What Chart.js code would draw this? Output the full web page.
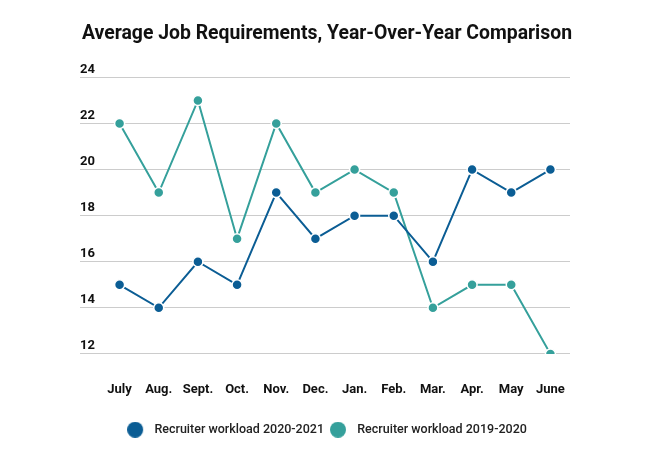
<!DOCTYPE html>
<html>
<head>
<meta charset="utf-8">
<script src="https://cdn.jsdelivr.net/npm/chart.js@4/dist/chart.umd.min.js"></script>
<style>
  html, body { margin: 0; padding: 0; background: #fff; }
  #wrap { width: 658px; height: 465px; }
</style>
</head>
<body>
<div id="wrap"><canvas id="lineChart"></canvas></div>
<script>
var months = ["July", "Aug.", "Sept.", "Oct.", "Nov.", "Dec.", "Jan.", "Feb.", "Mar.", "Apr.", "May", "June"];
var workload2021 = [15, 14, 16, 15, 19, 17, 18, 18, 16, 20, 19, 20];
var workload2020 = [22, 19, 23, 17, 22, 19, 20, 19, 14, 15, 15, 12];
var yTicks = [12, 14, 16, 18, 20, 22, 24];
var seriesColors = ['#0b5d94', '#35a09b'];

Chart.defaults.font.family = "Roboto, 'Noto Sans', sans-serif";
Chart.defaults.color = "#222";

// legend marker: circle on the left of a wider box, so the text sits further right
function legendDot(color) {
    var c = document.createElement('canvas');
    c.width = 21;
    c.height = 16;
    var g = c.getContext('2d');
    g.fillStyle = color;
    g.beginPath();
    g.arc(8, 8, 8, 0, Math.PI * 2);
    g.fill();
    return c;
}
var legendDots = seriesColors.map(legendDot);

var ctxL = document.getElementById("lineChart").getContext('2d');
var myLineChart = new Chart(ctxL, {
    type: 'line',
    data: {
        labels: months,
        datasets: [{
                label: "Recruiter workload 2020-2021",
                data: workload2021,
                borderColor: seriesColors[0],
                backgroundColor: seriesColors[0],
                pointBackgroundColor: seriesColors[0],
                pointBorderColor: '#fff',
                pointBorderWidth: 1.5,
                pointRadius: 5,
                borderWidth: 2,
                tension: 0
            },
            {
                label: "Recruiter workload 2019-2020",
                data: workload2020,
                borderColor: seriesColors[1],
                backgroundColor: seriesColors[1],
                pointBackgroundColor: seriesColors[1],
                pointBorderColor: '#fff',
                pointBorderWidth: 1.5,
                pointRadius: 5,
                borderWidth: 2,
                tension: 0
            }
        ]
    },
    options: {
        responsive: true,
        maintainAspectRatio: false,
        animation: false,
        layout: {
            padding: { left: 82, right: 86, top: 0, bottom: 19 }
        },
        scales: {
            x: {
                offset: true,
                grid: { display: false },
                border: { display: false },
                ticks: {
                    padding: 20,
                    font: { size: 13, weight: 'bold' },
                    color: '#111'
                }
            },
            y: {
                min: 12,
                max: 24,
                afterBuildTicks: function(scale) {
                    scale.ticks = yTicks.map(function(v) { return { value: v }; });
                },
                afterFit: function(scale) { scale.width = 18; },
                border: { display: false },
                grid: {
                    color: '#cccccc',
                    lineWidth: 1,
                    tickLength: 20,
                    tickColor: '#cccccc'
                },
                ticks: {
                    mirror: true,
                    padding: -20,
                    labelOffset: -8,
                    font: { size: 13, weight: 'bold' },
                    color: '#111'
                }
            },
            // empty spacer on the right
            yRight: {
                position: 'right',
                grid: { display: false },
                border: { display: false },
                ticks: { display: false },
                afterFit: function(scale) { scale.width = 2; }
            }
        },
        plugins: {
            title: {
                display: true,
                text: "Average Job Requirements, Year-Over-Year Comparison",
                font: { size: 19.5, weight: 'bold' },
                color: '#111',
                padding: { top: 22, bottom: 32 }
            },
            legend: {
                position: 'bottom',
                labels: {
                    usePointStyle: true,
                    pointStyleWidth: 21,
                    boxHeight: 12,
                    padding: 6,
                    font: { size: 12.5, weight: '500' },
                    color: '#222',
                    generateLabels: function(chart) {
                        var items = Chart.defaults.plugins.legend.labels.generateLabels(chart);
                        items.forEach(function(item) {
                            item.pointStyle = legendDots[item.datasetIndex];
                        });
                        return items;
                    }
                }
            },
            tooltip: { enabled: false }
        }
    }
});
</script>
</body>
</html>
